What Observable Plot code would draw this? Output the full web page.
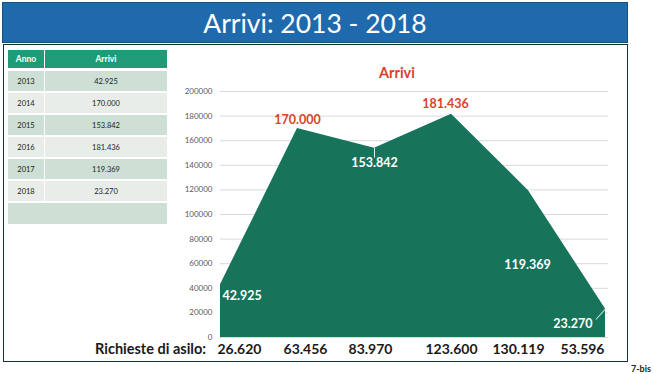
<!DOCTYPE html>
<html><head><meta charset="utf-8">
<script src="https://cdn.jsdelivr.net/npm/d3@7"></script>
<script src="https://cdn.jsdelivr.net/npm/@observablehq/plot@0.6"></script>
<style>
body{margin:0;background:#fff;font-family:Lato,"Open Sans",sans-serif;}
#root{position:relative;width:653px;height:374px;overflow:hidden;background:#fff;}
#title{position:absolute;left:2px;top:2px;width:626px;height:41px;background:#1F6AAC;color:#fff;font-size:26.5px;text-align:center;line-height:40px;box-sizing:border-box;border:1px solid #1a4f7f;}
#box{position:absolute;left:3px;top:44px;width:623px;height:316px;border:1px solid #17352f;}
#tbl{position:absolute;left:8px;top:50px;border-collapse:separate;border-spacing:0 0;font-size:7.5px;color:#222;}
#tbl td,#tbl th{padding:0;text-align:center;}
#tbl th{background:#1F9C77;color:#fff;font-weight:bold;font-size:8.5px;height:18px;}
#chartTitle{position:absolute;left:347px;top:64px;width:100px;text-align:center;color:#D9432B;font-weight:bold;font-size:14.5px;}
#ric{position:absolute;left:40px;top:340px;width:166px;text-align:right;font-weight:bold;font-size:14.5px;color:#1a1a1a;}
#bis{position:absolute;left:631px;top:363px;font-weight:bold;font-size:9px;color:#222;}
#plot{position:absolute;left:160px;top:55px;}
</style></head>
<body><div id="root">
<div id="title">Arrivi: 2013 - 2018</div>
<div id="box"></div>
<div id="tbl-wrap"></div>
<div id="chartTitle">Arrivi</div>
<div id="ric">Richieste di asilo:</div>
<div id="bis">7-bis</div>
<div id="plot"></div>
</div>
<script>
const anni = [2013, 2014, 2015, 2016, 2017, 2018];
const arrivi = [42925, 170000, 153842, 181436, 119369, 23270];
const richieste = [26620, 63456, 83970, 123600, 130119, 53596];
const yTicks = [0, 20000, 40000, 60000, 80000, 100000, 120000, 140000, 160000, 180000, 200000];

const it = d3.formatLocale({decimal: ",", thousands: ".", grouping: [3], currency: ["€", ""]});
const fmt = it.format(",d");

const data = anni.map((a, i) => ({anno: a, arrivi: arrivi[i], richieste: richieste[i]}));

// table
const rowDark = "#CEDFD6", rowLight = "#E8EDE9";
const tbl = d3.select("#tbl-wrap").append("table").attr("id", "tbl");
const hr = tbl.append("tr");
hr.append("th").style("width", "36px").text("Anno");
hr.append("th").style("width", "122px").style("border-left", "1px solid #fff").text("Arrivi");
tbl.append("tr").append("td").attr("colspan", 2).style("height", "3px");
data.forEach((d, i) => {
  const bg = i % 2 === 0 ? rowDark : rowLight;
  const tr = tbl.append("tr");
  tr.append("td").style("background", bg).style("height", "20px").style("border-bottom", "2px solid #fff").text(d.anno);
  tr.append("td").style("background", bg).style("border-left", "1px solid #fff").style("border-bottom", "2px solid #fff").text(fmt(d.arrivi));
});
tbl.append("tr").append("td").attr("colspan", 2).style("background", rowDark).style("height", "21px");

// chart
const green = "#18735B", red = "#D9432B";
const pick = y => data.filter(d => d.anno === y);
const lab = (y, o) => Plot.text(pick(y), {x: "anno", y: "arrivi", text: d => fmt(d.arrivi), fontWeight: "bold", fontSize: 12.5, ...o});
const ric = (y, o) => Plot.text(pick(y), {x: "anno", y: 0, text: d => fmt(d.richieste), fontWeight: "bold", fontSize: 14, fill: "#1a1a1a", dy: 12, ...o});
const lineShape = {draw(ctx, l) { ctx.moveTo(0, 0); ctx.lineTo(0, -l); }};

const chart = Plot.plot({
  width: 460, height: 305,
  marginLeft: 60, marginRight: 15, marginTop: 36, marginBottom: 23,
  style: {fontFamily: "Lato, 'Open Sans', sans-serif", background: "transparent"},
  x: {domain: [2013, 2018], axis: null},
  y: {domain: [0, 200000], ticks: yTicks, axis: null},
  marks: [
    Plot.gridY(yTicks, {stroke: "#D9D9D9", strokeOpacity: 1, x1: 2013, x2: 2018, insetRight: -3}),
    Plot.axisY(yTicks, {tickSize: 0, tickPadding: 8, fontSize: 8, fill: "#595959", tickFormat: d3.format("d"), label: null}),
    Plot.areaY(data, {x: "anno", y: "arrivi", fill: green}),
    Plot.vector(pick(2015), {x: "anno", y: "arrivi", length: 9, rotate: 180, anchor: "start", stroke: "#e8f0ec", strokeWidth: 1, shape: lineShape}),
    Plot.vector(pick(2018), {x: "anno", y: "arrivi", length: 14, rotate: 222, anchor: "start", stroke: "#cfe3da", strokeWidth: 1, shape: lineShape}),
    lab(2013, {fill: "#fff", textAnchor: "start", dx: 2, dy: 11}),
    lab(2014, {fill: red, dy: -8}),
    lab(2015, {fill: "#fff", dy: 15}),
    lab(2016, {fill: red, dy: -10, dx: -6}),
    lab(2017, {fill: "#fff", dy: 74, dx: -1}),
    lab(2018, {fill: "#fff", textAnchor: "end", dx: -13, dy: 15}),
    ric(2013, {textAnchor: "start", dx: -3}),
    ric(2014, {dx: 8}),
    ric(2015, {dx: -4}),
    ric(2016, {}),
    ric(2017, {dx: -10}),
    ric(2018, {textAnchor: "end", dx: -1})
  ]
});
document.getElementById("plot").appendChild(chart);
</script>
</body></html>
